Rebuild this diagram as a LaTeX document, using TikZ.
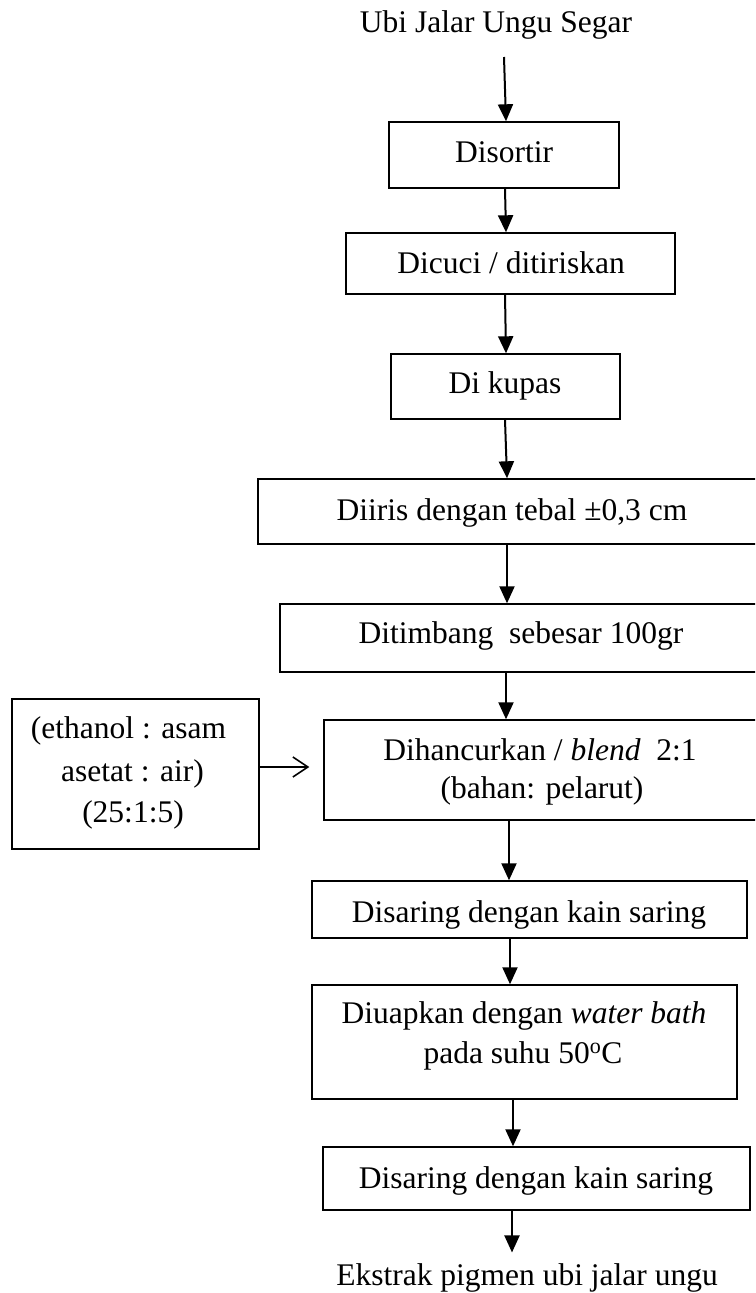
\documentclass[tikz,border=0pt]{standalone}
\usepackage{fontspec}
\setmainfont{Liberation Serif}
\usetikzlibrary{arrows.meta,fit}
\begin{document}
\begin{tikzpicture}[x=1pt,y=-1pt,
  box/.style={draw, line width=1.4pt, inner sep=0pt},
  txt/.style={inner sep=0pt, anchor=base, font=\fontsize{31.5}{38}\selectfont},
  arr/.style={line width=2pt, -{Triangle[length=17pt,width=15pt]}},
  oarr/.style={line width=1.6pt, -{Straight Barb[length=15pt,width=20pt]}}]
\useasboundingbox (0,0) rectangle (755,1293);
\clip (0,0) rectangle (755,1293);

% boxes
\node[box, fit={(389,122) (619,188)}] (b1) {};
\node[box, fit={(346,233) (675,294)}] (b2) {};
\node[box, fit={(391,354) (620,419)}] (b3) {};
\node[box, fit={(258,479) (775,544)}] (b4) {};
\node[box, fit={(280,604) (775,672)}] (b5) {};
\node[box, fit={(12,699) (259,849)}] (b6) {};
\node[box, fit={(324,720) (775,820)}] (b7) {};
\node[box, fit={(312,881) (747,938)}] (b8) {};
\node[box, fit={(312,985) (737,1099)}] (b9) {};
\node[box, fit={(323,1147) (750,1210)}] (b10) {};

% texts
\node[txt] (title) at (496,32) {Ubi Jalar Ungu Segar};
\node[txt] (t1) at (504,162) {Disortir};
\node[txt] (t2) at (511,273) {Dicuci / ditiriskan};
\node[txt] (t3) at (505,393) {Di kupas};
\node[txt] (t4) at (512,520) {Diiris dengan tebal ±0,3 cm};
\node[txt] (t5) at (521,643) {Ditimbang\ \ sebesar 100gr};
\node[txt] (t6a) at (128.5,738) {(ethanol : asam};
\node[txt] (t6b) at (132.5,781) {asetat : air)};
\node[txt] (t6c) at (133,822) {(25:1:5)};
\node[txt] (t7a) at (540,760) {Dihancurkan / \textit{blend}\ \ 2:1};
\node[txt] (t7b) at (542,798) {(bahan: pelarut)};
\node[txt] (t8) at (529,922) {Disaring dengan kain saring};
\node[txt] (t9a) at (524,1023) {Diuapkan dengan \textit{water bath}};
\node[txt] (t9b) at (523,1063) {pada suhu 50\textsuperscript{o}C};
\node[txt] (t10) at (536,1188) {Disaring dengan kain saring};
\node[txt] (bottom) at (527,1285) {Ekstrak pigmen ubi jalar ungu};

% connectors
\draw[arr] ([xshift=8pt,yshift=-18pt]title.south) -- ([xshift=2pt]b1.north);
\draw[arr] ([xshift=1pt]b1.south) -- ([xshift=-4.5pt]b2.north);
\draw[arr] ([xshift=-5.5pt]b2.south) -- ([xshift=0.5pt]b3.north);
\draw[arr] ([xshift=-0.5pt]b3.south) -- ([xshift=-9.5pt]b4.north);
\draw[arr] ([xshift=-9.5pt]b4.south) -- ([xshift=-20.5pt]b5.north);
\draw[arr] ([xshift=-21.5pt]b5.south) -- ([xshift=-43.5pt]b7.north);
\draw[arr] ([xshift=-40.5pt]b7.south) -- ([xshift=-20.5pt]b8.north);
\draw[arr] ([xshift=-19.5pt]b8.south) -- ([xshift=-14.5pt]b9.north);
\draw[arr] ([xshift=-11.5pt]b9.south) -- ([xshift=-23.5pt]b10.north);
\draw[arr] ([xshift=-24.5pt]b10.south) -- ([xshift=-15pt,yshift=10.5pt]bottom.north);
\draw[oarr] ([yshift=7pt]b6.east) -- ([xshift=-14pt,yshift=3pt]b7.west);
\end{tikzpicture}
\end{document}
